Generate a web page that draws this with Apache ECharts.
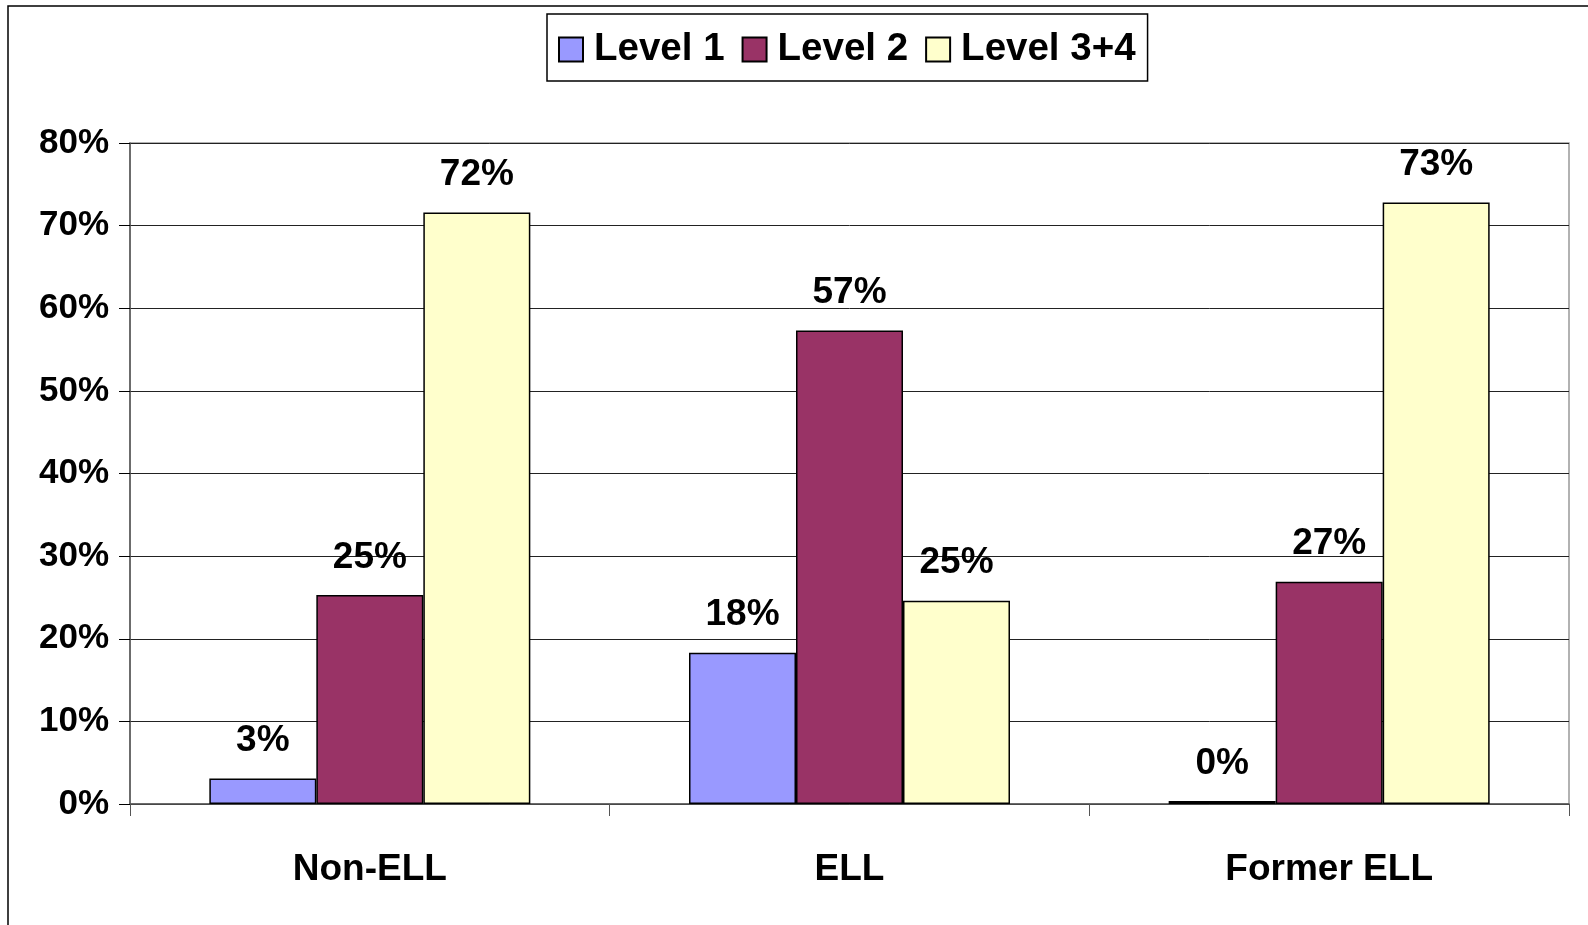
<!DOCTYPE html>
<html><head><meta charset="utf-8">
<script src="https://cdn.jsdelivr.net/npm/echarts@6/dist/echarts.min.js"></script>
<style>html,body{margin:0;padding:0;background:#fff}#c{width:1588px;height:925px}</style>
</head><body><div id="c"></div>
<script>
const categories = ['Non-ELL', 'ELL', 'Former ELL'];
const seriesNames = ['Level 1', 'Level 2', 'Level 3+4'];
const level1 = [3.1, 18.3, 0.35];
const level2 = [25.3, 57.3, 26.9];
const level34 = [71.6, 24.6, 72.8];
const yTicks = [0, 10, 20, 30, 40, 50, 60, 70, 80];
const colors = ['#9999FF', '#993366', '#FFFFCC'];

const font = '"Liberation Sans", Arial, sans-serif';
const chart = echarts.init(document.getElementById('c'));
const mk = (name, data, color) => ({
  name, type: 'bar', data, barWidth: 107, barGap: '0%',
  itemStyle: { color, borderColor: '#000', borderWidth: 1.5 },
  label: { show: true, position: 'top', distance: 19, color: '#000', fontFamily: font, fontWeight: 'bold', fontSize: 37,
    formatter: p => Math.round(p.value) + '%' }
});
chart.setOption({
  animation: false,
  graphic: [{ type: 'rect', shape: { x: 8, y: 6, width: 3000, height: 3000 }, style: { fill: 'none', stroke: '#000', lineWidth: 1.5 }, silent: true }],
  grid: { left: 130, right: 19, top: 143, bottom: 121, show: true, borderColor: '#999', borderWidth: 1.5 },
  legend: {
    left: 547, top: 14, padding: [16, 12, 12, 11], itemGap: 17, itemWidth: 24, itemHeight: 24,
    borderColor: '#000', borderWidth: 1.5, backgroundColor: '#fff',
    icon: 'rect',
    textStyle: { fontFamily: font, fontWeight: 'bold', fontSize: 38.5, color: '#000', padding: [0, 0, 0, 6] },
    data: seriesNames
  },
  xAxis: {
    type: 'category', data: categories,
    axisLine: { lineStyle: { color: '#555', width: 1.5 } },
    axisTick: { show: true, length: 12, lineStyle: { color: '#555' } },
    axisLabel: { margin: 47, color: '#000', fontFamily: font, fontWeight: 'bold', fontSize: 37 }
  },
  yAxis: {
    type: 'value', min: yTicks[0], max: yTicks[yTicks.length - 1], interval: 10,
    axisLine: { show: true, lineStyle: { color: '#555', width: 1.5 } },
    axisTick: { show: true, length: 11, lineStyle: { color: '#000' } },
    splitLine: { lineStyle: { color: '#222', width: 1 } },
    axisLabel: { margin: 21, color: '#000', fontFamily: font, fontWeight: 'bold', fontSize: 35, formatter: '{value}%',
      padding: [4, 0, 0, 0] }
  },
  series: [mk(seriesNames[0], level1, colors[0]), mk(seriesNames[1], level2, colors[1]), mk(seriesNames[2], level34, colors[2])]
});
</script></body></html>
